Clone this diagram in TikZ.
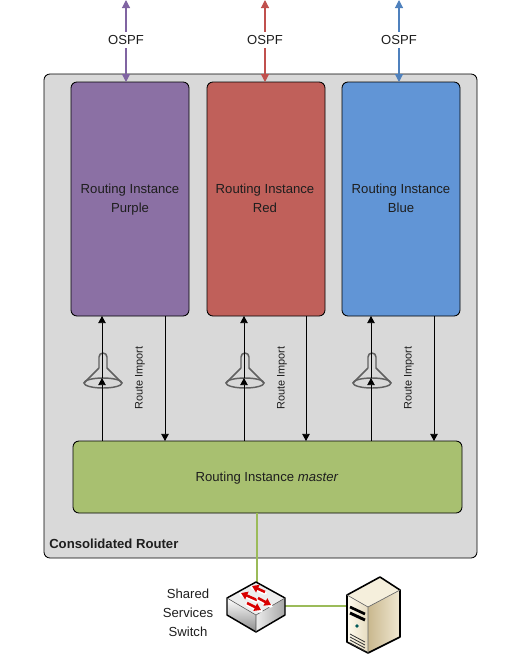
\documentclass[tikz,border=0pt]{standalone}
\usepackage{fontspec}
\setmainfont{Liberation Sans}
\usetikzlibrary{arrows.meta,calc}
\definecolor{cpurple}{HTML}{8B70A4}
\definecolor{cred}{HTML}{C0605A}
\definecolor{cblue}{HTML}{6195D6}
\definecolor{cgreen}{HTML}{A8C070}
\definecolor{cframe}{HTML}{D9D9D9}
\definecolor{lgreen}{HTML}{9BBB59}
\definecolor{lpurple}{HTML}{8064A2}
\definecolor{lred}{HTML}{C0504D}
\definecolor{lblue}{HTML}{4F81BD}
\definecolor{ctxt}{HTML}{1E1E1E}
\definecolor{srvA}{HTML}{FFFBEF}
\definecolor{srvB}{HTML}{E6DCC0}
\definecolor{srvC}{HTML}{C9B88E}
\definecolor{srvD}{HTML}{F0E8D2}
\definecolor{srvT}{HTML}{F5EFDC}
\tikzset{
 panel/.style={draw=black,line width=0.65pt,rounded corners=4.5pt,anchor=north west,inner sep=0,outer sep=0},
 lbl/.style={font=\fontsize{9.85}{14.25}\selectfont,text=ctxt,align=center,inner sep=0},
 ospf/.style={font=\fontsize{9.8}{13}\selectfont,text=ctxt,fill=white,inner sep=2.4pt},
 imp/.style={font=\fontsize{8.2}{10}\selectfont,text=ctxt,rotate=90,inner sep=0},
 flow/.style={draw=black,line width=0.55pt,-{Triangle[length=5.3pt,width=5.6pt]}},
 peer/.style={line width=0.85pt,{Triangle[length=6pt,width=6pt]}-{Triangle[length=6pt,width=6pt]}},
 flaskline/.style={draw=gray!75!black,line width=1.1pt},
 glink/.style={draw=lgreen,line width=0.8pt},
 swarrow/.style={draw=red!85!black,line width=1.9pt,-{Triangle[length=4.8pt,width=6pt]}},
 swunder/.style={draw=white,line width=2.9pt,line cap=round},
}
\newcommand{\flask}[1]{%
 \begin{scope}[shift={(#1,0)}]
  \draw[flaskline,line join=round] (-4,368) -- (-4,357) arc[start angle=180,end angle=360,radius=4] -- (4,368) -- (19,383);
  \draw[flaskline] (-4,368) -- (-19,383);
  \draw[flaskline] (0,383) ellipse[x radius=19,y radius=5];
 \end{scope}}
\begin{document}
\begin{tikzpicture}[x=0.75pt,y=-0.75pt]
\useasboundingbox (0,0) rectangle (523,654);
\node[panel,fill=cframe,minimum width=433*0.75pt,minimum height=484*0.75pt] (router) at (44,74) {};
\node[panel,fill=cpurple,minimum width=118*0.75pt,minimum height=234*0.75pt] (purple) at (71,82) {};
\node[panel,fill=cred,minimum width=118*0.75pt,minimum height=234*0.75pt] (red) at (207,82) {};
\node[panel,fill=cblue,minimum width=118*0.75pt,minimum height=234*0.75pt] (blue) at (342,82) {};
\node[panel,fill=cgreen,minimum width=389*0.75pt,minimum height=72*0.75pt] (master) at (73,441) {};
\node[lbl] (tp) at (130,200) {Routing Instance\\Purple};
\node[lbl] (tr) at (265,198) {Routing Instance\\Red};
\node[lbl] (tb) at (401,198) {Routing Instance\\Blue};
\node[lbl] (tm) at (267,478) {Routing Instance \textit{master}};
\node[font=\bfseries\fontsize{9.85}{12}\selectfont,text=ctxt,inner sep=0,anchor=west] (tc) at (49,544) {Consolidated Router};
% OSPF
\foreach \n/\x/\c in {a/126/lpurple,b/265/lred,c/399/lblue}{
 \coordinate (top\n) at (\x,0);
 \coordinate (bot\n) at (\x,82);
 \draw[peer,draw=\c,fill=\c] (top\n) -- (bot\n);
 \node[ospf] (o\n) at (\x,40) {OSPF};
}
% Flasks
\flask{103}\flask{245}\flask{372}
% Imports
\foreach \n/\x in {a/102,b/244,c/371}{
 \coordinate (f\n) at (\x,378);
 \coordinate (m\n) at (\x,441);
 \coordinate (u\n) at (\x,316);
 \draw[flow] (m\n) -- (f\n);
 \draw[flow] (f\n) -- (u\n);
}
\foreach \n/\x in {a/165,b/306,c/434}{
 \coordinate (s\n) at (\x,316);
 \coordinate (e\n) at (\x,441);
 \draw[flow] (s\n) -- (e\n);
}
\node[imp] (ia) at (140,378) {Route Import};
\node[imp] (ib) at (282,378) {Route Import};
\node[imp] (ic) at (409,378) {Route Import};
% Switch
\coordinate (mout) at (257,513);
\coordinate (swtop) at (257,582);
\coordinate (swr) at (285,606);
\coordinate (srv) at (347,606);
\draw[glink] (mout) -- (swtop);
\draw[glink] (swr) -- (srv);
\shade[top color=white,bottom color=gray!90] (227,598) -- (256,615) -- (256,632) -- (227,615) -- cycle;
\shade[left color=gray!15,right color=gray!70] (256,615) -- (285,598) -- (285,615) -- (256,632) -- cycle;
\fill[gray!14] (256,582) -- (285,598) -- (256,615) -- (227,598) -- cycle;
\draw[black,line width=1.1pt,line join=round] (256,582) -- (285,598) -- (285,615) -- (256,632) -- (227,615) -- (227,598) -- cycle;
\draw[black!70,line width=0.4pt,line join=round] (227,598) -- (256,615) -- (285,598) (256,615) -- (256,632);
\foreach \a/\b/\c/\d in {265/592/252/586,257/600/241/593,258/598/271/605,247/603/261/610}{
 \draw[swunder] (\a,\b+1) -- (\c,\d+1);
 \draw[swarrow] (\a,\b) -- (\c,\d);
}
\node[lbl] (tsw) at (188,613) {Shared\\Services\\Switch};
% Server
\shade[left color=srvA,right color=srvB] (347,595) -- (368,607) -- (368,653) -- (347,641) -- cycle;
\shade[left color=srvC,right color=srvD] (368,607) -- (400,590) -- (400,637) -- (368,653) -- cycle;
\fill[srvT] (347,595) -- (380,577) -- (400,590) -- (368,607) -- cycle;
\draw[black,line width=1.2pt,line join=round] (347,595) -- (380,577) -- (400,590) -- (400,637) -- (368,653) -- (347,642) -- cycle;
\draw[black!60,line width=0.5pt,line join=round] (347,595) -- (368,607) -- (400,590) (368,607) -- (368,653);
\draw[black,line width=2pt] (350,607) -- (365,614);
\draw[black,line width=2.2pt] (350,613) -- (365,620);
\fill[teal!70!black] (357,626) circle (1.8);
\foreach \d in {0,3,6,9}{\draw[black!80,line width=0.6pt] (350,634+\d) -- (365,642+\d);}
\end{tikzpicture}
\end{document}
